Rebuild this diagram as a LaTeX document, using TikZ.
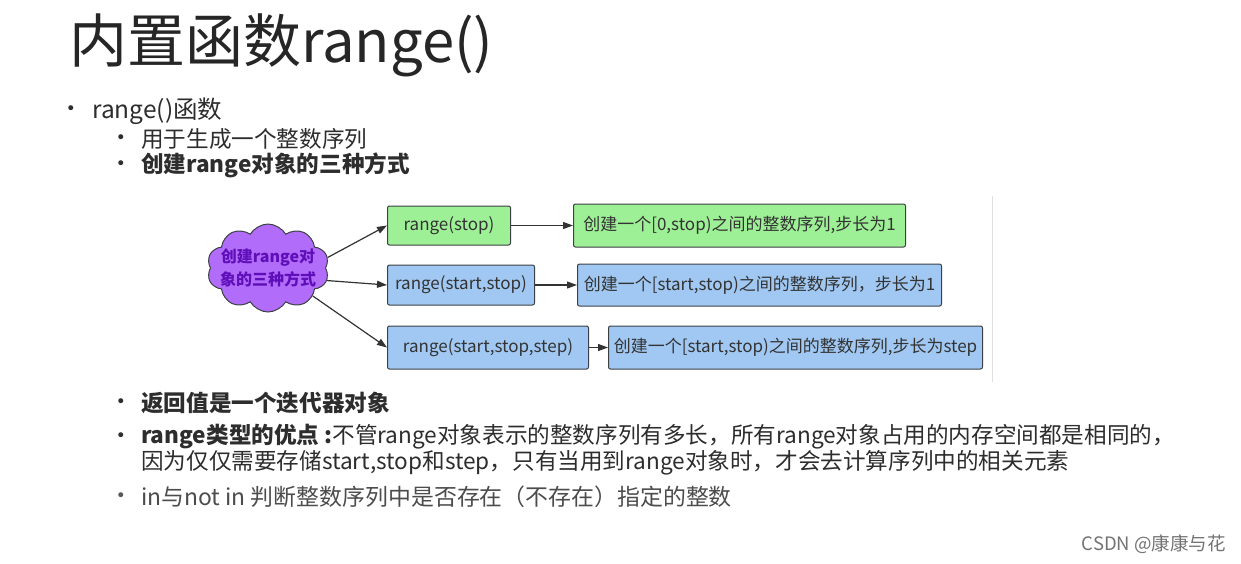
\documentclass[tikz,border=0pt]{standalone}
\usepackage{fontspec}
\setmainfont{Noto Sans CJK SC}
\newfontfamily\bulfont{DejaVu Sans}
\usetikzlibrary{shapes.symbols,arrows.meta}
\definecolor{boxgreen}{RGB}{158,240,150}
\definecolor{boxblue}{RGB}{160,200,242}
\definecolor{cloudfill}{RGB}{178,108,250}
\definecolor{cloudtext}{RGB}{95,15,185}
\definecolor{edge}{RGB}{60,64,68}
\definecolor{bodytext}{RGB}{45,45,45}
\begin{document}
\begin{tikzpicture}[x=1pt,y=-1pt,
  txt/.style={anchor=west,inner sep=0pt,text=bodytext},
  lvone/.style={txt,font=\fontsize{24.5}{28}\selectfont},
  lvtwo/.style={txt,font=\fontsize{22.6}{26}\selectfont},
  bul/.style={anchor=center,inner sep=0pt,text=bodytext,font=\bulfont\fontsize{17}{17}\selectfont},
  box/.style={draw=edge,line width=1pt,rounded corners=2pt,anchor=west,inner sep=0pt,
              text=black!80,font=\fontsize{17}{19}\selectfont},
  arr/.style={draw=black!80,line width=1.2pt,-{Triangle[length=10pt,width=7pt]}}
]
\useasboundingbox[fill=white] (0,0) rectangle (1241,563);

% title
\node[txt,text=black!85,font=\fontsize{58}{62}\selectfont] (title) at (69,45) {内置函数range()};

% top bullets
\node[bul] (bA) at (71,110) {•};
\node[lvone] (tA) at (92,111) {range()函数};
\node[bul] (bB) at (121,139) {•};
\node[lvtwo] (tB) at (141,139) {用于生成一个整数序列};
\node[bul] (bC) at (121,165) {•};
\node[lvtwo,font=\fontsize{22.6}{26}\selectfont\bfseries] (tC) at (141,165) {创建range对象的三种方式};

% diagram
\draw[black!12,line width=1pt] (992,196) -- (992,382);
\node[cloud,cloud puffs=10,cloud puff arc=120,fill=cloudfill,draw=edge,line width=1pt,
      minimum width=122,minimum height=88,inner sep=0pt] (c) at (268,268) {};
\node[inner sep=0pt,align=center,text=cloudtext,
      font=\fontsize{16}{23}\selectfont\bfseries] (ct) at (c.center) {创建range对\\象的三种方式};

\node[box,fill=boxgreen,minimum width=123,minimum height=39] (b1) at (387,225.5) {range(stop)};
\node[box,fill=boxgreen,minimum width=332,minimum height=43] (b1b) at (573,225.5) {创建一个[0,stop)之间的整数序列,步长为1};
\node[box,fill=boxblue,minimum width=147,minimum height=40] (b2) at (387,285) {range(start,stop)};
\node[box,fill=boxblue,minimum width=364,minimum height=42] (b2b) at (577,285) {创建一个[start,stop)之间的整数序列，步长为1};
\node[box,fill=boxblue,minimum width=201,minimum height=43] (b3) at (387,347.5) {range(start,stop,step)};
\node[box,fill=boxblue,minimum width=374,minimum height=43] (b3b) at (608,347.5) {创建一个[start,stop)之间的整数序列,步长为step};

\draw[arr] (c.10) -- (b1.west);
\draw[arr] (c.-12) -- (b2.west);
\draw[arr] (c.-32) -- (b3.west);
\draw[arr] (b1.east) -- (b1b.west);
\draw[arr] (b2.east) -- (b2b.west);
\draw[arr] (b3.east) -- (b3b.west);

% bottom bullets
\node[bul] (bD) at (121,403) {•};
\node[lvtwo,font=\fontsize{22.6}{26}\selectfont\bfseries] (tD) at (141,403) {返回值是一个迭代器对象};
\node[bul] (bE) at (121,437) {•};
\node[lvtwo] (tE) at (141,437) {\textbf{range类型的优点 :}不管range对象表示的整数序列有多长，所有range对象占用的内存空间都是相同的，};
\node[lvtwo] (tF) at (141,463) {因为仅仅需要存储start,stop和step，只有当用到range对象时，才会去计算序列中的相关元素};
\node[bul,text=black!65] (bG) at (121,497) {•};
\node[lvtwo,font=\fontsize{22.9}{27}\selectfont,text=black!70] (tG) at (141,497) {in与not in 判断整数序列中是否存在（不存在）指定的整数};

% watermark
\node[anchor=east,inner sep=0pt,text=black!55,font=\fontsize{18.5}{19}\selectfont] (wm) at (1226,544) {CSDN @康康与花};
\end{tikzpicture}
\end{document}
